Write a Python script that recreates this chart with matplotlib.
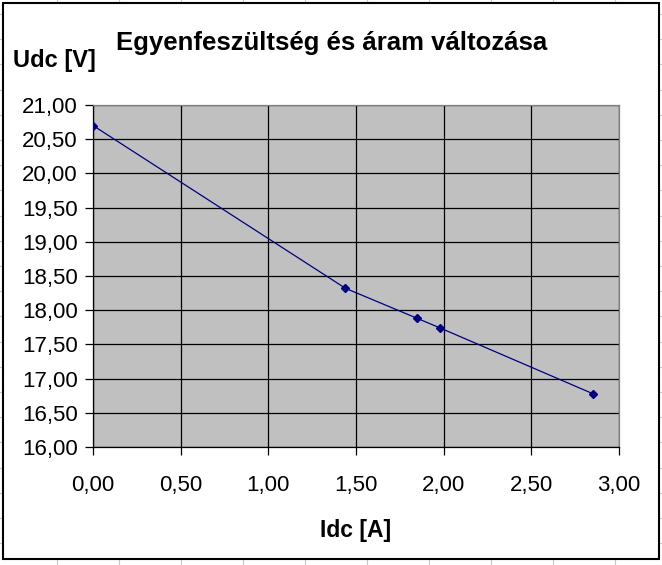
#import library
import matplotlib.pyplot as plt
from matplotlib.lines import Line2D
from matplotlib.patches import Rectangle
from matplotlib.ticker import FuncFormatter, MultipleLocator

#define datasets
current = [0.00, 1.44, 1.85, 1.98, 2.85]
voltage = [20.70, 18.32, 17.88, 17.74, 16.78]

title = "Egyenfeszültség és áram változása"
x_label = "Idc [A]"
y_label = "Udc [V]"

plt.rcParams["font.family"] = ["Liberation Sans", "DejaVu Sans"]

W, H = 662, 565

#define fig and plot size
fig = plt.figure(figsize=(W / 100, H / 100), dpi=100)
fig.patch.set_facecolor("white")

#spreadsheet cell lines behind the chart
for k in range(10):
    x = (57 + 62 * k) / W
    fig.add_artist(Line2D([x, x], [0, 1], color="#c8c8c8", lw=0.8, zorder=0))
for k in range(23):
    y = 1 - (14 + 25.2 * k) / H
    fig.add_artist(Line2D([0, 1], [y, y], color="#c8c8c8", lw=0.8, zorder=0))

#chart area with black border
fig.add_artist(Rectangle((3 / W, 1 - 559 / H), 656 / W, 556 / H,
                         facecolor="white", edgecolor="black", lw=1.5, zorder=1))

ax = fig.add_axes([93 / W, 1 - 447 / H, (619 - 93) / W, (447 - 105) / H], zorder=2)
ax.set_facecolor("#c0c0c0")

#define voltage plot
ax.plot(current, voltage, color="#000080", lw=0.9, marker="D",
        markersize=4, markerfacecolor="#000080", markeredgecolor="#000080", zorder=3)

ax.set_xlim(0, 3)
ax.set_ylim(16, 21)
ax.xaxis.set_major_locator(MultipleLocator(0.5))
ax.yaxis.set_major_locator(MultipleLocator(0.5))
fmt = FuncFormatter(lambda v, p: f"{v:.2f}".replace(".", ","))
ax.xaxis.set_major_formatter(fmt)
ax.yaxis.set_major_formatter(fmt)

#enable grid
ax.grid(True, color="black", lw=0.9)
ax.set_axisbelow(True)

for s in ["left", "bottom"]:
    ax.spines[s].set_color("black")
    ax.spines[s].set_linewidth(0.9)
for s in ["top", "right"]:
    ax.spines[s].set_color("#808080")
    ax.spines[s].set_linewidth(0.9)

ax.tick_params(axis="y", direction="out", length=6, width=0.9, pad=5, labelsize=16)
ax.tick_params(axis="x", direction="out", length=6, width=0.9, pad=14, labelsize=16)

#define title and labels
fig.text(332 / W, 1 - 43 / H, title, ha="center", va="center",
         fontsize=18.5, fontweight="bold")
fig.text(13 / W, 1 - 61 / H, y_label, ha="left", va="center",
         fontsize=17, fontweight="bold")
fig.text(356 / W, 1 - 530 / H, x_label, ha="center", va="center",
         fontsize=16.5, fontweight="bold")

fig.savefig("out.png", dpi=100)
